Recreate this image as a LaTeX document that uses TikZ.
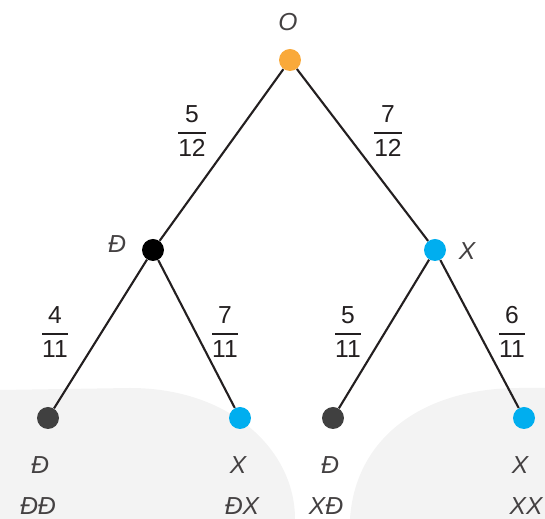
\documentclass[tikz,border=0pt]{standalone}
\usepackage{fontspec}
\setmainfont{Liberation Sans}
\usepackage{xcolor}
\usepackage{tikz}

\definecolor{dotorange}{HTML}{F9A93A}
\definecolor{dotblue}{HTML}{00AEEF}
\definecolor{dotgray}{HTML}{404040}
\definecolor{linecol}{HTML}{231F20}
\definecolor{bggray}{HTML}{F3F3F3}

\newcommand{\prob}[2]{$\displaystyle{\mbox{#1}\above 1.1pt\mbox{#2}}$}

\tikzset{
  dot/.style={circle, inner sep=0pt, minimum size=0.44cm},
  branch/.style={draw=linecol, line width=1.2pt},
  lab/.style={font=\fontsize{14}{16}\selectfont\itshape, text=linecol!85},
  frac/.style={font=\fontsize{14}{16}\selectfont, text=linecol}
}

\begin{document}
\begin{tikzpicture}[x=0.02cm,y=-0.02cm]
\useasboundingbox (0,0) rectangle (545,519);

% faint background
\fill[bggray] (0,519) -- (0,390) -- (130,388)
  .. controls (230,388) and (295,450) .. (295,519) -- cycle;
\fill[bggray] (350,519) .. controls (355,440) and (420,388) .. (520,388)
  -- (545,388) -- (545,519) -- cycle;

% tree nodes
\node[dot, fill=dotorange] (o) at (290,60) {};
\node[dot, fill=black] (d) at (153,250) {};
\node[dot, fill=dotblue] (x) at (435,250) {};
\node[dot, fill=dotgray] (dd) at (48,418) {};
\node[dot, fill=dotblue] (dx) at (240,418) {};
\node[dot, fill=dotgray] (xd) at (333,418) {};
\node[dot, fill=dotblue] (xx) at (524,418) {};

% branches
\draw[branch] (o) -- (d);
\draw[branch] (o) -- (x);
\draw[branch] (d) -- (dd);
\draw[branch] (d) -- (dx);
\draw[branch] (x) -- (xd);
\draw[branch] (x) -- (xx);

% labels
\node[lab] (lo) at (288,22) {O};
\node[lab] (ld) at (117,244) {Đ};
\node[lab] (lx) at (467,251) {X};
\node[lab] (l1) at (40,465) {Đ};
\node[lab] (l2) at (238,465) {X};
\node[lab] (l3) at (330,465) {Đ};
\node[lab] (l4) at (520,465) {X};
\node[lab] (r1) at (38,506) {ĐĐ};
\node[lab] (r2) at (242,506) {ĐX};
\node[lab] (r3) at (326,506) {XĐ};
\node[lab] (r4) at (526,506) {XX};

% probabilities
\node[frac] (p1) at (192,131) {\prob{5}{12}};
\node[frac] (p2) at (388,131) {\prob{7}{12}};
\node[frac] (p3) at (55,332) {\prob{4}{11}};
\node[frac] (p4) at (225,332) {\prob{7}{11}};
\node[frac] (p5) at (348,332) {\prob{5}{11}};
\node[frac] (p6) at (512,332) {\prob{6}{11}};

\end{tikzpicture}
\end{document}
